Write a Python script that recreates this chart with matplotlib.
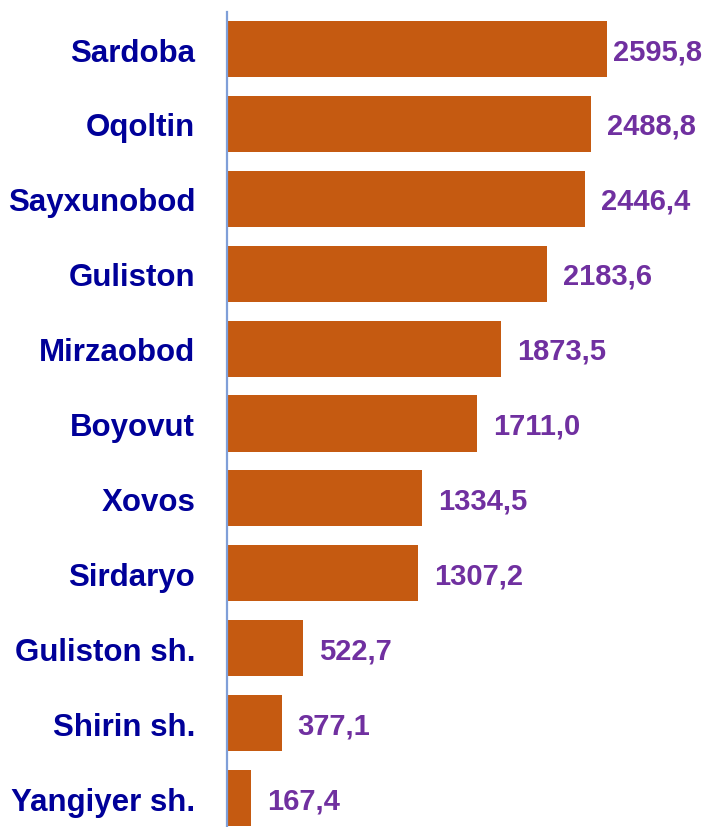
import matplotlib
matplotlib.use("Agg")
import matplotlib.pyplot as plt

districts = ["Sardoba", "Oqoltin", "Sayxunobod", "Guliston", "Mirzaobod",
             "Boyovut", "Xovos", "Sirdaryo", "Guliston sh.", "Shirin sh.",
             "Yangiyer sh."]
values = [2595.8, 2488.8, 2446.4, 2183.6, 1873.5, 1711.0, 1334.5, 1307.2,
          522.7, 377.1, 167.4]
value_labels = ["2595,8", "2488,8", "2446,4", "2183,6", "1873,5", "1711,0",
                "1334,5", "1307,2", "522,7", "377,1", "167,4"]

BAR_COLOR = "#C55A11"
NAME_COLOR = "#000099"
VALUE_COLOR = "#7030A0"
AXIS_COLOR = "#7F9FD8"

plt.rcParams["font.family"] = ["Liberation Sans", "DejaVu Sans"]

W, H, DPI = 705, 828, 100
fig = plt.figure(figsize=(W / DPI, H / DPI), dpi=DPI)
ax_left = 226.5 / W
ax = fig.add_axes([ax_left, 0.0, 1 - ax_left, 1 - 13 / H])

n = len(districts)
pos = list(range(n))
ax.barh(pos, values, height=0.75, color=BAR_COLOR, edgecolor="none")

x_max = 3264
ax.set_xlim(0, x_max)
ax.set_ylim(10.387, -0.494)

for s in ["top", "right", "bottom"]:
    ax.spines[s].set_visible(False)
ax.spines["left"].set_color(AXIS_COLOR)
ax.spines["left"].set_linewidth(1.6)
ax.set_xticks([])
ax.set_yticks(pos)
ax.set_yticklabels(districts, fontsize=22.5, fontweight="bold", color=NAME_COLOR)
ax.tick_params(axis="y", length=0, pad=22.5)

fig.canvas.draw()
renderer = fig.canvas.get_renderer()
right_limit = W - 7
gap = 11.5
for i, (v, lab) in enumerate(zip(values, value_labels)):
    t = ax.annotate(lab, (v, i), xytext=(gap, -1.5), textcoords="offset points",
                    ha="left", va="center", fontsize=21, fontweight="bold",
                    color=VALUE_COLOR)
    bb = t.get_window_extent(renderer)
    if bb.x1 > right_limit:
        shift = (bb.x1 - right_limit) * 72 / DPI
        t.set_position((max(gap - shift, 4), -1.5))

fig.savefig("out.png", dpi=DPI)
